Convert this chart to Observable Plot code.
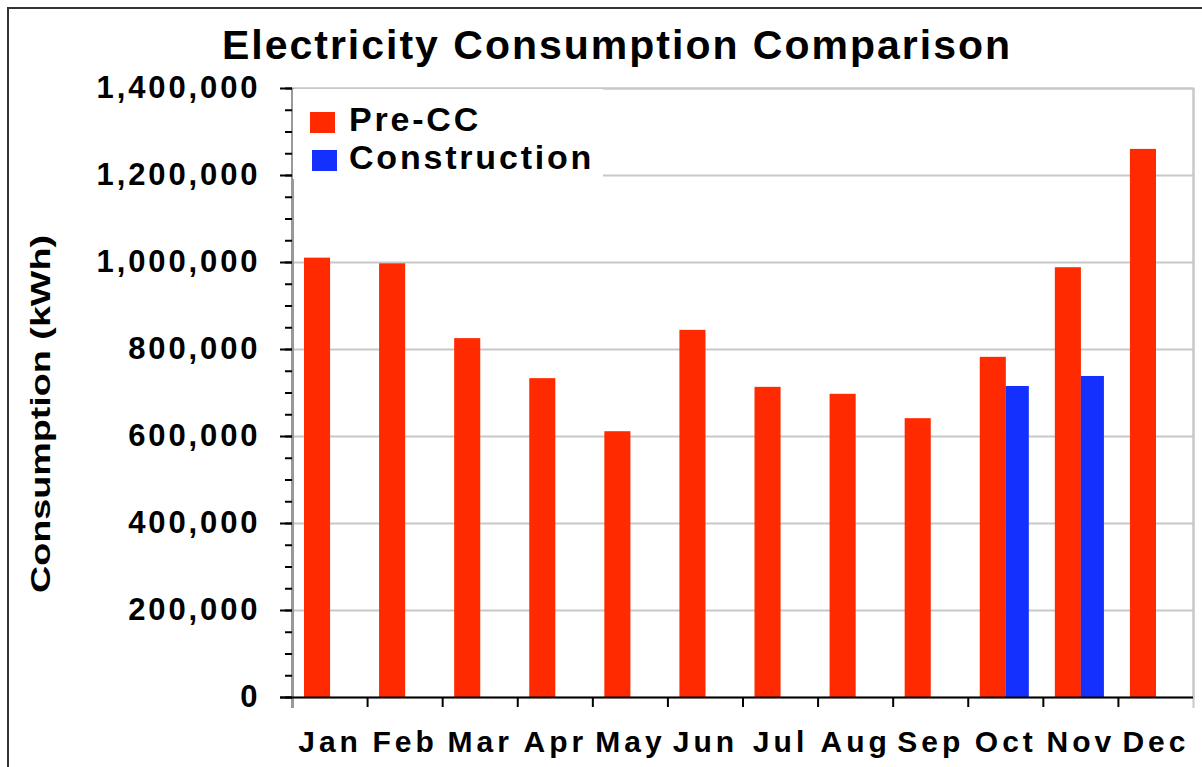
<!DOCTYPE html>
<html>
<head>
<meta charset="utf-8">
<script src="https://cdn.jsdelivr.net/npm/d3@7"></script>
<script src="https://cdn.jsdelivr.net/npm/@observablehq/plot@0.6"></script>
<style>
  html, body { margin: 0; padding: 0; background: #fff; overflow: hidden; }
  #wrap { position: relative; width: 1202px; height: 767px; overflow: hidden; font-family: "Liberation Sans", Arial, sans-serif; }
  #border { position: absolute; left: 7px; top: 7px; width: 1400px; height: 1000px; border: 2px solid #333; box-sizing: border-box; pointer-events: none; }
  #title { height: 70px; box-sizing: border-box; padding-top: 25px; padding-left: 32px; text-align: center; font-size: 41px; line-height: 41px; font-weight: bold; letter-spacing: 2px; color: #000; white-space: nowrap; }
  #legend { position: absolute; left: 293px; top: 89px; width: 310px; height: 90px; background: #fff; }
  .sw { position: absolute; width: 25px; height: 21px; }
  .lt { position: absolute; font-size: 34px; line-height: 34px; font-weight: bold; letter-spacing: 2.8px; white-space: nowrap; color: #000; }
  svg { display: block; overflow: visible; }
</style>
</head>
<body>
<div id="wrap">
  <div id="title">Electricity Consumption Comparison</div>
  <div id="chart"></div>
  <div id="legend"></div>
  <div id="border"></div>
</div>
<script>
// ---- data ----
const months = ["Jan", "Feb", "Mar", "Apr", "May", "Jun", "Jul", "Aug", "Sep", "Oct", "Nov", "Dec"];
const preCC = [1010000, 997000, 825000, 733000, 611000, 844000, 713000, 697000, 641000, 782000, 988000, 1260000];
const construction = [null, null, null, null, null, null, null, null, null, 715000, 738000, null];
const seriesNames = ["Pre-CC", "Construction"];
const seriesColors = ["#ff2a00", "#1430ff"];
const yTicks = [0, 200000, 400000, 600000, 800000, 1000000, 1200000, 1400000];
const yMinorTicks = d3.range(0, 1400001, 50000);
const yLabel = "Consumption (kWh)";
const titleText = "Electricity Consumption Comparison";

document.getElementById("title").textContent = titleText;

const preRows = months.map((m, i) => ({i, month: m, value: preCC[i]}));
const conRows = months.map((m, i) => ({i, month: m, value: construction[i]})).filter(d => d.value != null);
const boundaries = d3.range(0, months.length + 1);
const centers = months.map((m, i) => i + 0.5);

const chart = Plot.plot({
  width: 1202,
  height: 697,
  marginTop: 18,
  marginBottom: 70,
  marginLeft: 292,
  marginRight: 9,
  style: { fontFamily: "Liberation Sans, Arial, sans-serif", color: "#000", background: "transparent" },
  x: { domain: [0, months.length], axis: null },
  y: { domain: [0, 1400000], axis: null },
  marks: [
    Plot.frame({ stroke: "#c8c8c8", strokeWidth: 2 }),
    Plot.ruleY(yTicks.slice(1), { stroke: "#c8c8c8", strokeWidth: 2 }),
    Plot.rectY(preRows, { x1: "i", x2: d => d.i + 1, y: "value", fill: seriesColors[0], insetLeft: 12, insetRight: 37 }),
    Plot.rectY(conRows, { x1: "i", x2: d => d.i + 1, y: "value", fill: seriesColors[1], insetLeft: 38, insetRight: 14 }),
    Plot.ruleX([0], { stroke: "#999", strokeWidth: 3, insetBottom: -11 }),
    Plot.ruleX([months.length], { stroke: "#c8c8c8", strokeWidth: 2, insetBottom: -11 }),
    Plot.axisX({ ticks: boundaries.slice(1, -1), tickSize: 10, text: null, strokeWidth: 2, stroke: "#000", label: null }),
    Plot.ruleY([0], { stroke: "#000", strokeWidth: 2, insetLeft: -12 }),
    Plot.axisX({ ticks: centers, tickSize: 0, tickPadding: 33, tickFormat: d => months[Math.floor(d)], fontSize: 30, fontWeight: "bold", label: null }),
    Plot.axisY({ ticks: yMinorTicks, tickSize: 7, text: null, strokeWidth: 2, stroke: "#000", label: null }),
    Plot.axisY({ ticks: yTicks, tickSize: 12, tickPadding: 20, strokeWidth: 2, stroke: "#000", tickFormat: d3.format(","), fontSize: 31, fontWeight: "bold", label: null }),
    Plot.text([yLabel], { frameAnchor: "left", textAnchor: "middle", rotate: -90, dx: -251, dy: 21, fontSize: 28, fontWeight: "bold" })
  ]
});
document.getElementById("chart").appendChild(chart);
// letter spacing / stretching (the reference text is widely spaced)
chart.querySelectorAll("text").forEach(t => {
  const s = t.textContent;
  if (/^[\d,]+$/.test(s)) t.setAttribute("letter-spacing", "2.9");
  else if (months.includes(s)) t.setAttribute("letter-spacing", "4");
  else if (s === yLabel) { t.setAttribute("textLength", "358"); t.setAttribute("lengthAdjust", "spacingAndGlyphs"); }
});

// legend
const legend = document.getElementById("legend");
const legendPos = [{sx: 17, sy: 23, tx: 56, ty: 13}, {sx: 19, sy: 61, tx: 56, ty: 51}];
seriesNames.forEach((name, k) => {
  const sw = document.createElement("div");
  sw.className = "sw";
  sw.style.left = legendPos[k].sx + "px";
  sw.style.top = legendPos[k].sy + "px";
  sw.style.background = seriesColors[k];
  legend.appendChild(sw);
  const lt = document.createElement("div");
  lt.className = "lt";
  lt.style.left = legendPos[k].tx + "px";
  lt.style.top = legendPos[k].ty + "px";
  lt.textContent = name;
  legend.appendChild(lt);
});
</script>
</body>
</html>
